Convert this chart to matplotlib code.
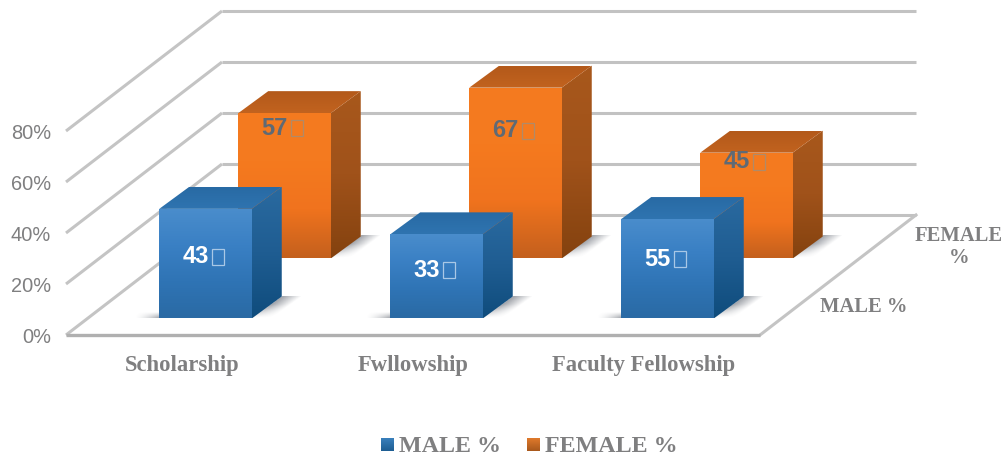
import numpy as np
import matplotlib
matplotlib.use('Agg')
import matplotlib.pyplot as plt
from matplotlib.colors import to_rgb
from matplotlib.patches import Polygon, Rectangle

categories = ['Scholarship', 'Fwllowship', 'Faculty Fellowship']
series_names = ['MALE %', 'FEMALE %']
yticks = [0, 20, 40, 60, 80]

# heights as drawn (the last group is drawn lower than its printed labels)
male_height = [43, 33, 39]
female_height = [57, 67, 41.5]
# printed on the bars
male_labels = ['43', '33', '55']
female_labels = ['57', '67', '45']

W, H = 1005, 455
PX_PER_CAT = 231.0
PX_PER_PCT = 2.55


# pixel position -> axis units
def cx(px):
    return (px - 205.5) / PX_PER_CAT


def vy(py):
    return (335 - py) / PX_PER_PCT


fig = plt.figure(figsize=(W / 100, H / 100), dpi=100)
ax = fig.add_axes([0, 0, 1, 1])
ax.set_xlim(cx(0), cx(W))
ax.set_ylim(vy(H), vy(0))
ax.axis('off')

GREY = '#7f7f80'
SANS = 'Liberation Sans'
SERIF = 'Liberation Serif'

# walls and floor
depth_c = 156 / PX_PER_CAT
depth_v = 120 / PX_PER_PCT
left = cx(66)
right = cx(760)
for t in yticks:
    ax.plot([left, left + depth_c], [t, t + depth_v], color='#c4c4c4', lw=2.2,
            solid_capstyle='butt', zorder=1)
    ax.plot([left + depth_c, right + depth_c], [t + depth_v, t + depth_v],
            color='#c2c2c2', lw=2.2, solid_capstyle='butt', zorder=1)
    ax.text(cx(51), t - 0.8, '%d%%' % t, ha='right', va='center', fontsize=14.4,
            family=SANS, color=GREY)
ax.plot([right, right + depth_c], [0, depth_v], color='#c4c4c4', lw=2.2, zorder=1)
ax.plot([left, right], [0, 0], color='#b0b0b0', lw=2.4, solid_capstyle='butt', zorder=1.5)


def gradient(pts, colors, z):
    # vertical gradient clipped to a polygon, colors go top -> bottom
    pts = np.array(pts)
    stops = np.array([to_rgb(c) for c in colors])
    pos = np.linspace(0, 1, len(colors))
    t = np.linspace(0, 1, 128)
    img = np.stack([np.interp(t, pos, stops[:, i]) for i in range(3)], axis=1)[:, None, :]
    im = ax.imshow(img, extent=[pts[:, 0].min(), pts[:, 0].max(), pts[:, 1].min(), pts[:, 1].max()],
                   origin='upper', aspect='auto', zorder=z, interpolation='bilinear')
    clip = Polygon(pts, closed=True, transform=ax.transData, facecolor='none', edgecolor='none')
    ax.add_patch(clip)
    im.set_clip_path(clip)


def shadow(x0, x1, y0, y1, alpha, z):
    # soft floor shadow, alpha is a function of 0-1 grid coords (u right, w up)
    u, w = np.meshgrid(np.linspace(0, 1, 80), np.linspace(1, 0, 40))
    img = np.zeros((40, 80, 4))
    img[:, :, :3] = to_rgb('#4a505c')
    img[:, :, 3] = np.clip(alpha(u, w), 0, 1)
    ax.imshow(img, extent=[x0, x1, y0, y1], origin='upper', aspect='auto', zorder=z,
              interpolation='bilinear')


BAR_W = 92.5 / PX_PER_CAT
SIDE_C = 30 / PX_PER_CAT
SIDE_V = 22 / PX_PER_PCT


def bar3d(c, base, height, front, top, side, z):
    x0, x1 = c - BAR_W / 2, c + BAR_W / 2
    y0, y1 = base, base + height
    # shadow right of the side face, follows the diagonal bottom edge
    shadow(x1, x1 + SIDE_C + 20 / PX_PER_CAT, y0, y0 + SIDE_V,
           lambda u, w: 0.55 * np.clip(1 - (u - w * 0.6) / 0.4, 0, 1) * (u > w * 0.6) * np.clip(w * 1.6, 0, 1), z)
    # small one left of the front face
    shadow(x0 - 24 / PX_PER_CAT, x0, y0, y0 + 2.0,
           lambda u, w: 0.5 * u ** 1.5 * (1 - w), z)
    gradient([(x1, y0), (x1, y1), (x1 + SIDE_C, y1 + SIDE_V), (x1 + SIDE_C, y0 + SIDE_V)], side, z + 0.1)
    gradient([(x0, y1), (x1, y1), (x1 + SIDE_C, y1 + SIDE_V), (x0 + SIDE_C, y1 + SIDE_V)], top, z + 0.1)
    gradient([(x0, y0), (x1, y0), (x1, y1), (x0, y1)], front, z + 0.2)


base_male = vy(318.5)
base_female = vy(258.5)
male_c = [cx(205.5 + PX_PER_CAT * i) for i in range(3)]
female_c = [cx(284.5 + PX_PER_CAT * i) for i in range(3)]

ORANGE = (['#f47b20', '#f57a1f', '#f0731e', '#c4601d'], ['#b3591a', '#c2631f'], ['#a8581c', '#a0521a', '#84420f'])
BLUE = (['#4a8dcc', '#3a80c4', '#2f74b5', '#2a6aa4'], ['#286aa4', '#2f74b0'], ['#2a6aa0', '#1f5d92', '#0f4c7c'])

for i in range(3):
    bar3d(female_c[i], base_female, female_height[i], *ORANGE, 3)
for i in range(3):
    bar3d(male_c[i], base_male, male_height[i], *BLUE, 4)

# value labels, offsets from the bar top in pixels
male_off = [47, 35, 39]
female_off = [14, 42, 8]
for i in range(3):
    for c, base, h, lab, off, col, boxcol in [
            (male_c[i], base_male, male_height[i], male_labels[i], male_off[i], 'white', '#a9c8e6'),
            (female_c[i], base_female, female_height[i], female_labels[i], female_off[i], '#5f6a75', '#b08a68')]:
        y = base + h - (off + 1) / PX_PER_PCT
        xl = c - BAR_W / 2 + 23 / PX_PER_CAT
        ax.text(xl, y, lab, ha='left', va='center', fontsize=17, family=SANS,
                weight='bold', color=col, zorder=6)
        # empty box after the number, as in the source image
        ax.add_patch(Rectangle((xl + 30 / PX_PER_CAT, y - 8 / PX_PER_PCT), 12 / PX_PER_CAT, 16 / PX_PER_PCT,
                               facecolor='none', edgecolor=boxcol, lw=0.9, zorder=6))

# category labels
for xc, name in zip([182, 413, 644], categories):
    ax.text(cx(xc), vy(365), name, ha='center', va='center', fontsize=16.3, family=SERIF,
            weight='bold', color=GREY)

# depth axis labels
ax.text(cx(959), vy(247), 'FEMALE\n%', ha='center', va='center', fontsize=14.8, family=SERIF,
        weight='bold', color=GREY, linespacing=1.1)
ax.text(cx(864), vy(307), 'MALE %', ha='center', va='center', fontsize=14.8, family=SERIF,
        weight='bold', color=GREY)

# legend
for x0, name, cols, tx in [(381, series_names[0], ['#3a80bc', '#1d5d92'], 399),
                           (527, series_names[1], ['#e07a2c', '#a8581c'], 545)]:
    pts = [(cx(x0), vy(451)), (cx(x0 + 13), vy(451)), (cx(x0 + 13), vy(438)), (cx(x0), vy(438))]
    gradient(pts, cols, 5)
    ax.text(cx(tx), vy(446.5), name, ha='left', va='center', fontsize=17.3, family=SERIF,
            weight='bold', color=GREY)

ax.set_xlim(cx(0), cx(W))
ax.set_ylim(vy(H), vy(0))
fig.savefig('out.png', dpi=100, facecolor='white')
